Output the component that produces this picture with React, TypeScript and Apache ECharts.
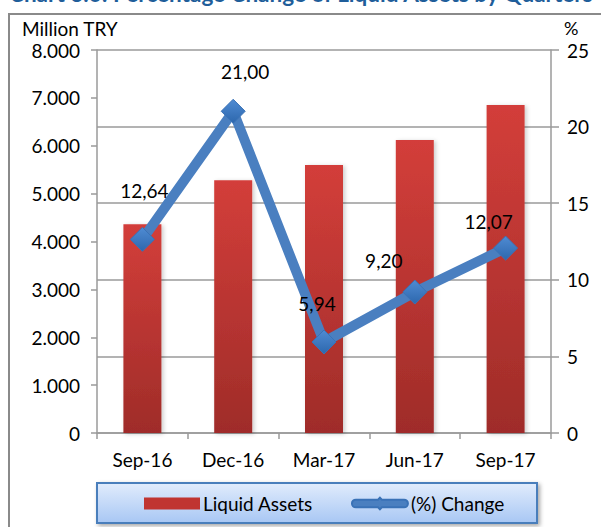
import React, { useEffect, useRef } from "react";
import * as echarts from "echarts";

const categories = ["Sep-16", "Dec-16", "Mar-17", "Jun-17", "Sep-17"];
const liquidAssets = [4360, 5280, 5600, 6120, 6850];
const pctChange = [12.64, 21.0, 5.94, 9.2, 12.07];
const labelOffsets = [
  [2, -22],
  [12, -13],
  [-7, -11],
  [-31, -5],
  [-17, 0],
];
const leftTicks = { min: 0, max: 8000, interval: 1000 };
const rightTicks = { min: 0, max: 25, interval: 5 };

const FONT = "Lato, 'Open Sans', sans-serif";
const AXIS_GRAY = "#9a9a9a";
const LINE_ICON =
  "path://M4,2 L27,2 L29,0 L31,2 L54,2 A4,4 0 0 1 54,10 L31,10 L29,12 L27,10 L4,10 A4,4 0 0 1 4,2 Z";

export default function App() {
  const ref = useRef<HTMLDivElement>(null);
  useEffect(() => {
    if (!ref.current) return;
    const chart = echarts.init(ref.current, null, { renderer: "svg" });
    const barColor = new echarts.graphic.LinearGradient(0, 0, 0, 1, [
      { offset: 0, color: "#d33e3a" },
      { offset: 1, color: "#9f2c29" },
    ]);
    const diamondColor = new echarts.graphic.LinearGradient(0, 0, 0, 1, [
      { offset: 0, color: "#4f8bd3" },
      { offset: 1, color: "#2d67ad" },
    ]);
    chart.setOption({
      animation: false,
      backgroundColor: "#ffffff",
      textStyle: { fontFamily: FONT },
      grid: { left: 97, right: 50, top: 50, bottom: 94 },
      graphic: [
        {
          type: "rect",
          shape: { x: 9, y: 14, width: 700, height: 600 },
          style: { fill: "none", stroke: "#8a8a8a", lineWidth: 2 },
          z: 0,
        },
        {
          type: "text",
          x: 9,
          y: 5,
          style: {
            text: "Chart 3.6: Percentage Change of Liquid Assets by Quarters",
            fill: "#1f5e9a",
            font: `bold 22.5px ${FONT}`,
            textVerticalAlign: "bottom",
          },
        },
        {
          type: "text",
          x: 22,
          y: 28,
          style: {
            text: "Million TRY",
            fill: "#000",
            font: `19px ${FONT}`,
            textVerticalAlign: "middle",
          },
        },
        {
          type: "text",
          x: 564,
          y: 28,
          style: {
            text: "%",
            fill: "#000",
            font: `18px ${FONT}`,
            textVerticalAlign: "middle",
          },
        },
        {
          type: "rect",
          shape: { x: 97, y: 483, width: 440, height: 40 },
          style: {
            fill: new echarts.graphic.LinearGradient(0, 0, 0, 1, [
              { offset: 0, color: "#e1ecfc" },
              { offset: 1, color: "#a8c7f4" },
            ]),
            stroke: "#4a7ebb",
            lineWidth: 2,
            shadowBlur: 4,
            shadowOffsetX: 2,
            shadowOffsetY: 2,
            shadowColor: "rgba(0,0,0,0.35)",
          },
          z: 1,
        },
      ],
      legend: {
        left: 139,
        top: 489,
        itemGap: 38,
        itemWidth: 56,
        itemHeight: 12,
        textStyle: { fontSize: 19, color: "#000", fontFamily: FONT, padding: [0, 0, 0, -2] },
        z: 5,
        data: [
          { name: "Liquid Assets", icon: "rect", itemStyle: { color: "#c03531" } },
          { name: "(%) Change", icon: LINE_ICON, itemStyle: { color: "#4a7fc0" } },
        ],
      },
      xAxis: {
        type: "category",
        data: categories,
        axisLine: { lineStyle: { color: AXIS_GRAY, width: 1.5 } },
        axisTick: { show: true, alignWithLabel: false, length: 6, lineStyle: { color: AXIS_GRAY, width: 1.5 } },
        axisLabel: { fontSize: 19, color: "#000", margin: 17, fontFamily: FONT },
      },
      yAxis: [
        {
          type: "value",
          ...leftTicks,
          position: "left",
          axisLine: { show: true, lineStyle: { color: AXIS_GRAY, width: 1.5 } },
          axisTick: { show: true, length: 6, lineStyle: { color: AXIS_GRAY, width: 1.5 } },
          splitLine: { show: false },
          axisLabel: {
            fontSize: 19,
            color: "#000",
            margin: 17,
            fontFamily: FONT,
            formatter: (v: number) =>
              v === 0 ? "0" : v.toString().replace(/\B(?=(\d{3})+(?!\d))/g, "."),
          },
        },
        {
          type: "value",
          ...rightTicks,
          position: "right",
          axisLine: { show: true, lineStyle: { color: AXIS_GRAY, width: 1.5 } },
          axisTick: { show: true, length: 8, lineStyle: { color: AXIS_GRAY, width: 1.5 } },
          splitLine: { show: true, lineStyle: { color: AXIS_GRAY, width: 1.5 } },
          axisLabel: { fontSize: 19, color: "#000", margin: 16, fontFamily: FONT },
        },
      ],
      series: [
        {
          name: "Liquid Assets",
          type: "bar",
          yAxisIndex: 0,
          barWidth: 38,
          data: liquidAssets,
          itemStyle: {
            color: barColor,
            shadowBlur: 4,
            shadowOffsetX: 2,
            shadowOffsetY: 1,
            shadowColor: "rgba(0,0,0,0.2)",
          },
          z: 2,
        },
        {
          name: "(%) Change",
          type: "line",
          yAxisIndex: 1,
          data: pctChange.map((v, i) => ({
            value: v,
            label: { offset: labelOffsets[i] },
          })),
          symbol: "diamond",
          symbolSize: 24,
          lineStyle: { color: "#4a7fc0", width: 10 },
          itemStyle: { color: diamondColor, borderColor: "#3a72b6", borderWidth: 1 },
          label: {
            show: true,
            position: "top",
            distance: 5,
            fontSize: 19,
            color: "#000",
            fontFamily: FONT,
            formatter: (p: any) => Number(p.value).toFixed(2).replace(".", ","),
          },
          z: 3,
        },
      ],
    });
    return () => chart.dispose();
  }, []);
  return (
    <div
      ref={ref}
      style={{ position: "fixed", left: 0, top: 0, width: 601, height: 527 }}
    />
  );
}
